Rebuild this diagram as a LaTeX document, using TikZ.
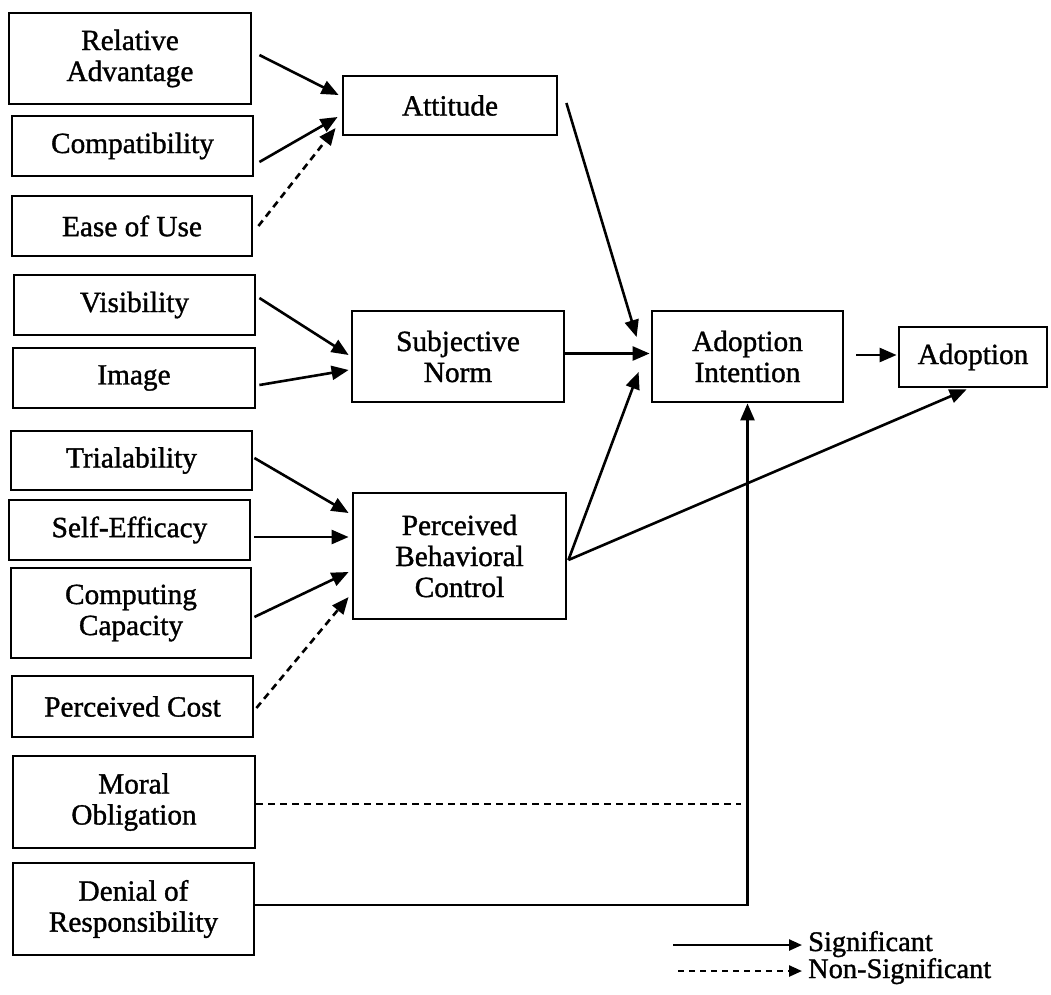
\documentclass[tikz,border=0pt]{standalone}
\usepackage{fontspec}
\setmainfont{Liberation Serif}[FakeBold=1.2]
\usetikzlibrary{arrows.meta}
\begin{document}
\begin{tikzpicture}[x=1pt,y=-1pt,
  every node/.style={font=\fontsize{29.3}{31}\selectfont},
  box/.style={draw, line width=2.8pt, align=center, inner sep=0pt},
  link/.style={line width=2.6pt, -{Triangle[length=17pt,width=14pt]}},
  nslink/.style={link, dash pattern=on 7pt off 5pt},
  keytip/.style={line width=2.4pt, -{Triangle[length=13pt,width=11pt]}},
  keytext/.style={anchor=base west, inner sep=0pt, font=\fontsize{28.4}{30}\selectfont}]
\useasboundingbox (0,0) rectangle (1051,994);

% determinant boxes (left column)
\node[box, minimum width=242, minimum height=91] (ra)    at (130,58.5)  {Relative\\Advantage};
\node[box, minimum width=241, minimum height=60] (comp)  at (132.5,146) {Compatibility};
\node[box, minimum width=240, minimum height=60] (ease)  at (132,226)   {Ease of Use};
\node[box, minimum width=241, minimum height=60] (vis)   at (134.5,305) {Visibility};
\node[box, minimum width=242, minimum height=60] (img)   at (134,378)   {Image};
\node[box, minimum width=241, minimum height=59] (trial) at (131.5,460.5) {Trialability};
\node[box, minimum width=241, minimum height=60] (self)  at (129.5,530) {Self-Efficacy};
\node[box, minimum width=240, minimum height=90] (cc)    at (131,613)   {Computing\\Capacity};
\node[box, minimum width=241, minimum height=61] (cost)  at (132.5,706.5) {Perceived Cost};
\node[box, minimum width=242, minimum height=92] (moral) at (134,802)   {Moral\\Obligation};
\node[box, minimum width=241, minimum height=92] (den)   at (133.5,909) {Denial of\\Responsibility};

% belief constructs
\node[box, minimum width=214, minimum height=59]  (att) at (450,105.5) {Attitude};
\node[box, minimum width=212, minimum height=91]  (sn)  at (458,356.5) {Subjective\\Norm};
\node[box, minimum width=213, minimum height=126] (pbc) at (459.5,556) {Perceived\\Behavioral\\Control};

% outcomes
\node[box, minimum width=191, minimum height=91] (ai)   at (747.5,356.5) {Adoption\\Intention};
\node[box, minimum width=148, minimum height=60] (adop) at (973,357)     {Adoption};

% paths into Attitude
\draw[link]   ([shift={(7,-3.5)}]ra.east)  -- ([shift={(-3,-10.5)}]att.west);
\draw[link]   ([shift={(5,16)}]comp.east)  -- ([shift={(-4,11.5)}]att.west);
\draw[nslink] ([shift={(5,0)}]ease.east)   -- ([shift={(-6,22.5)}]att.west);

% paths into Subjective Norm
\draw[link] ([shift={(3,-7)}]vis.east) -- ([shift={(-2,-1.5)}]sn.west);
\draw[link] ([shift={(3,7)}]img.east)  -- ([shift={(-2,13.5)}]sn.west);

% paths into Perceived Behavioral Control
\draw[link]   ([shift={(1,-2.5)}]trial.east) -- ([shift={(-3,-43)}]pbc.west);
\draw[link]   ([shift={(3,7)}]self.east)     -- ([shift={(-3,-19)}]pbc.west);
\draw[link]   ([shift={(2,4)}]cc.east)       -- ([shift={(-3,16)}]pbc.west);
\draw[nslink] ([shift={(2,1.5)}]cost.east)   -- ([shift={(-3,41)}]pbc.west);

% paths into Adoption Intention
\draw[link] ([shift={(8,-2.5)}]att.east) -- ([shift={(-14,-19.5)}]ai.west);
\draw[link] ([shift={(0,-3)}]sn.east)    -- ([shift={(-1,-3)}]ai.west);
\draw[link] ([shift={(1,4)}]pbc.east)    -- ([shift={(-12,15.5)}]ai.west);
\coordinate (mo) at (741,804);
\draw[line width=2.3pt, dash pattern=on 7pt off 5pt] ([shift={(0,2)}]moral.east) -- (mo);
\draw[link] ([shift={(0,-4)}]den.east) -| (ai.south);

% paths into Adoption
\draw[link] ([shift={(12,-1.5)}]ai.east) -- ([shift={(-1,-2)}]adop.west);
\draw[link] ([shift={(1,4)}]pbc.east)    -- ([shift={(69,1)}]adop.south west);

% key
\coordinate (k1) at (673,945);
\coordinate (k2) at (678,971);
\node[keytext] (sig)  at (808,951) {Significant};
\node[keytext] (nsig) at (808,978) {Non-Significant};
\draw[keytip] (k1) -- ([xshift=-6pt]k1 -| sig.west);
\draw[keytip, dash pattern=on 6pt off 5pt] (k2) -- ([xshift=-6pt]k2 -| nsig.west);
\end{tikzpicture}
\end{document}
